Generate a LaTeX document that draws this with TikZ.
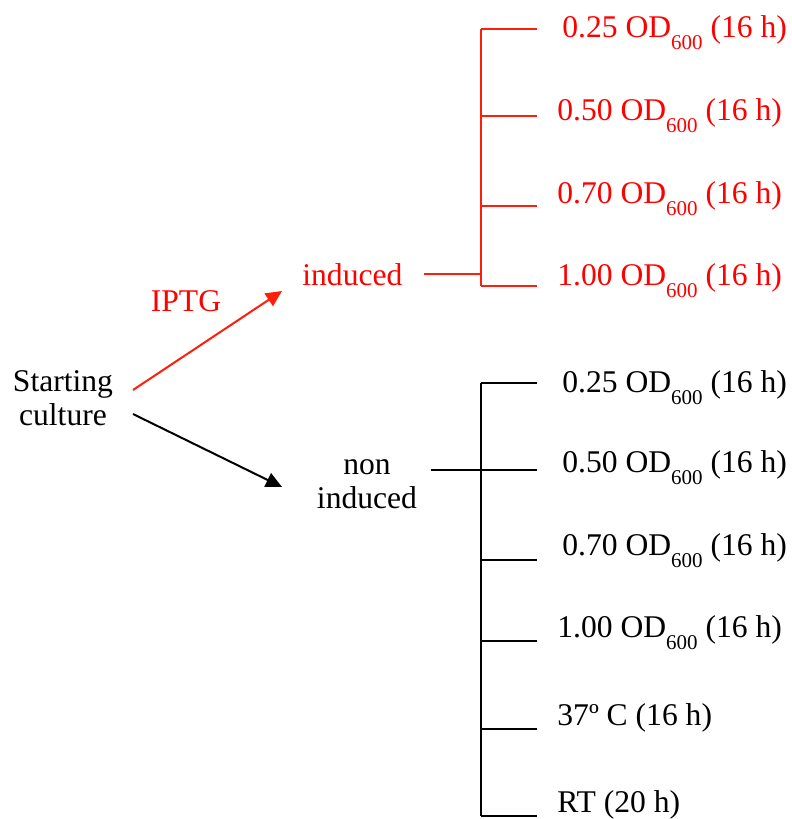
\documentclass[tikz,border=0pt]{standalone}
\usepackage{fontspec}
\setmainfont{Liberation Serif}
\usetikzlibrary{arrows.meta}

\definecolor{indred}{RGB}{255,30,10}
\newcommand{\odsub}[1]{OD\raisebox{-0.38em}{\fontsize{10.5}{10.5}\selectfont #1}}

\begin{document}
\begin{tikzpicture}[x=0.5pt, y=-0.5pt,
  every node/.style={font=\fontsize{15.8}{17}\selectfont, inner sep=0pt},
  lab/.style={anchor=base west},
  arr/.style={-{Triangle[length=8pt,width=7.5pt]}, line width=1pt},
  brk/.style={line width=1pt}]

\useasboundingbox (0,0) rectangle (792,819);

% starting point and the two treatments

\node[align=center] (start) at (63,398) {Starting\\culture};
\node[lab, text=red] (ind) at (302,285) {induced};
\node[align=center] (non) at (367,484) {non\\induced};
\node[text=red] (iptg) at (186,301) {IPTG};

\coordinate (rtail) at (133,390);
\coordinate (rtip) at (282,291);
\coordinate (btail) at (133,414);
\coordinate (btip) at (282,487);

\draw[arr, indred] (rtail) -- (rtip);
\draw[arr] (btail) -- (btip);

% induced samples

\node[lab, text=red] (r1) at (562,37) {0.25 \odsub{600} (16 h)};
\node[lab, text=red] (r2) at (557,120) {0.50 \odsub{600} (16 h)};
\node[lab, text=red] (r3) at (557,203) {0.70 \odsub{600} (16 h)};
\node[lab, text=red] (r4) at (557,285) {1.00 \odsub{600} (16 h)};

\coordinate (rin) at (424,274);
\coordinate (rjoin) at (481,274);

\draw[brk, indred] (rin) -- (rjoin);
\draw[brk, indred] (481,29) -- (481,286);
\draw[brk, indred] (481,29) -- (537,29);
\draw[brk, indred] (481,116) -- (537,116);
\draw[brk, indred] (481,206) -- (537,206);
\draw[brk, indred] (481,286) -- (537,286);

% non induced samples

\node[lab] (n1) at (562,392) {0.25 \odsub{600} (16 h)};
\node[lab] (n2) at (562,472) {0.50 \odsub{600} (16 h)};
\node[lab] (n3) at (562,555) {0.70 \odsub{600} (16 h)};
\node[lab] (n4) at (557,637) {1.00 \odsub{600} (16 h)};
\node[lab] (n5) at (557,725) {37º C (16 h)};
\node[lab] (n6) at (557,812) {RT (20 h)};

\coordinate (nin) at (431,470);
\coordinate (njoin) at (481,470);

\draw[brk] (nin) -- (njoin);
\draw[brk] (481,383) -- (481,816);
\draw[brk] (481,383) -- (537,383);
\draw[brk] (481,470) -- (537,470);
\draw[brk] (481,560) -- (537,560);
\draw[brk] (481,641) -- (537,641);
\draw[brk] (481,729) -- (537,729);
\draw[brk] (481,816) -- (537,816);

\end{tikzpicture}
\end{document}
